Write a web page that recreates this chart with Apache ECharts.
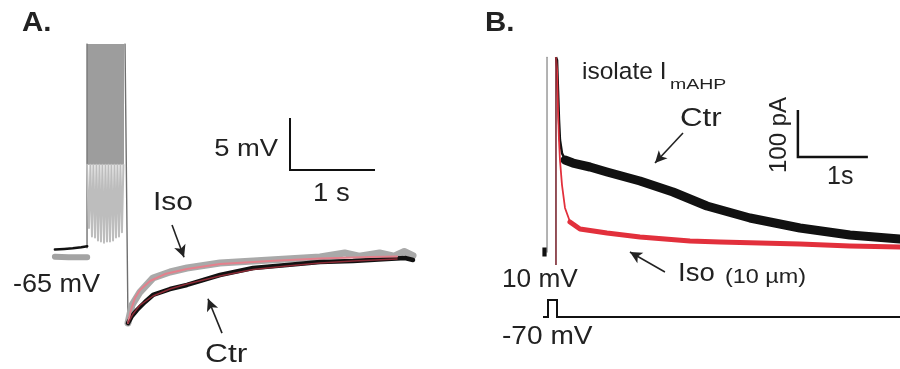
<!DOCTYPE html>
<html>
<head>
<meta charset="utf-8">
<script src="https://cdn.jsdelivr.net/npm/echarts@6/dist/echarts.min.js"></script>
<style>
  html, body { margin: 0; padding: 0; background: #fff; }
  #chart { width: 900px; height: 369px; }
</style>
</head>
<body>
<div id="chart"></div>
<script>
// ---- panel A: membrane potential (s, mV) ----
const preCtrA = [[-0.86, -64.75], [-0.75, -64.7], [-0.65, -64.65], [-0.55, -64.55], [-0.48, -64.45]];
const preIsoA = [[-0.86, -65.45], [-0.7, -65.5], [-0.48, -65.5]];
const burstTop = -45;
const burstDark = -56.6;
const burstStart = -0.482;
const burstEnd = -0.047;
const spikeTimes = [-0.459, -0.424, -0.388, -0.353, -0.318, -0.282, -0.247, -0.212, -0.176, -0.141, -0.106, -0.071];
const spikeTroughs = [-62.7, -63.5, -63.6, -63.9, -64.0, -64.1, -64.0, -64.0, -63.9, -63.6, -63.5, -63.1];
const dropA = [[-0.035, -45], [0, -71.83]];
const isoA = [[0, -71.83], [0.047, -70.1], [0.141, -68.85], [0.294, -67.5], [0.494, -66.92], [0.694, -66.54],
  [1.082, -66.06], [1.671, -65.77], [2.259, -65.48], [2.55, -65.1], [2.72, -65.4], [2.96, -65.1], [3.13, -65.4],
  [3.25, -64.95], [3.353, -65.35]];
const ctrA = [[0, -71.83], [0.047, -71.15], [0.106, -70.58], [0.2, -69.81], [0.294, -69.13], [0.494, -68.56],
  [0.694, -68.17], [1.082, -67.21], [1.471, -66.54], [1.871, -66.25], [2.259, -65.96], [2.647, -65.87],
  [3.047, -65.67], [3.259, -65.58], [3.353, -65.77]];
const isoFitA = [[0, -71.83], [0.035, -70.58], [0.082, -69.42], [0.141, -68.65], [0.259, -67.79], [0.435, -67.12],
  [0.694, -66.63], [1.082, -66.15], [1.671, -65.87], [2.259, -65.63], [2.847, -65.48], [3.165, -65.43]];
const ctrFitA = [[0, -71.83], [0.059, -70.96], [0.141, -70.1], [0.294, -69.23], [0.494, -68.56], [0.694, -68.08],
  [1.082, -67.31], [1.471, -66.68], [1.871, -66.35], [2.259, -66.06], [2.647, -65.87], [3.165, -65.67]];
const scaleA = [[1.906, -52.12], [1.906, -57.12], [2.906, -57.12]];

// ---- panel B: current (s, pA) and command voltage (s, mV) ----
const onsetB = [[-0.014, -4], [-0.014, 410]];
const preB = [[-0.08, -4.3], [-0.02, -4.3]];
const offsetB = [[0.114, -31.9], [0.114, 410]];
const ctrSpikeB = [[0.114, 410], [0.129, 404], [0.143, 340], [0.157, 277], [0.171, 234], [0.2, 206], [0.243, 193]];
const ctrB = [[0.243, 191.5], [0.357, 185], [0.6, 176.6], [0.843, 166], [1.314, 146.8],
  [1.786, 123.4], [2.271, 93.6], [2.886, 68.1], [3.6, 46.8], [4.314, 31.9], [5.03, 23.4]];
const isoSpikeB = [[0.114, 410], [0.129, 383], [0.143, 298], [0.157, 234], [0.171, 191.5], [0.2, 138.3],
  [0.243, 89.4], [0.314, 60]];
const isoB = [[0.314, 59.6], [0.457, 44.7], [0.843, 36.2], [1.314, 27.7], [2.029, 19.1],
  [2.457, 17.0], [3.6, 12.8], [4.314, 8.5], [5.03, 6.4]];
const scaleB = [[3.571, 298], [3.571, 198], [4.571, 198]];
const stepV = [[-0.071, -70], [0, -70], [0, 10], [0.129, 10], [0.129, -70], [5.03, -70]];

// build the zigzag of the spike train from the read troughs
const spikeTrain = [[burstStart, burstDark]];
spikeTimes.forEach((t, i) => {
  spikeTrain.push([t, spikeTroughs[i]]);
  spikeTrain.push([t + 0.017, burstDark]);
});

const chart = echarts.init(document.getElementById('chart'));
const font = '"Liberation Sans", Arial, sans-serif';
const ink = '#222';

function line (name, data, x, color, width, extra) {
  return Object.assign({
    name: name,
    type: 'line',
    xAxisIndex: x,
    yAxisIndex: x,
    data: data,
    showSymbol: false,
    symbol: 'none',
    silent: true,
    lineStyle: { color: color, width: width, join: 'round', cap: 'round' },
    z: 2
  }, extra || {});
}

function arrow (from, to) {
  return [{ coord: from }, { coord: to }];
}

const arrowMark = (pairs) => ({
  silent: true,
  symbol: ['none', 'arrow'],
  symbolSize: [9, 12],
  label: { show: false },
  lineStyle: { color: ink, width: 1.6, type: 'solid' },
  data: pairs
});

// text label; sx stretches it horizontally like the (slightly wide) source figure
function text (str, x, y, size, sx, opts) {
  opts = opts || {};
  return Object.assign({
    type: 'text',
    x: x,
    y: y,
    scaleX: sx || 1,
    style: Object.assign({
      text: str,
      fill: ink,
      font: size + 'px ' + font,
      textVerticalAlign: 'middle'
    }, opts.style || {})
  }, opts.el || {});
}

const option = {
  animation: false,
  backgroundColor: '#fff',
  grid: [
    { left: 43, top: 44, width: 382.5, height: 312 },
    { left: 541, top: 57.3, width: 359.1, height: 216.2 },
    { left: 541, top: 297.9, width: 359.1, height: 21.25 }
  ],
  xAxis: [
    { type: 'value', gridIndex: 0, min: -1, max: 3.5, show: false },
    { type: 'value', gridIndex: 1, min: -0.1, max: 5.03, show: false },
    { type: 'value', gridIndex: 2, min: -0.1, max: 5.03, show: false }
  ],
  yAxis: [
    { type: 'value', gridIndex: 0, min: -75, max: -45, show: false },
    { type: 'value', gridIndex: 1, min: -50, max: 410, show: false },
    { type: 'value', gridIndex: 2, min: -80, max: 20, show: false }
  ],
  series: [
    line('burst', [[burstStart, -64.6], [burstStart, burstTop]], 0, '#7a7a7a', 1.5, {
      markArea: {
        silent: true,
        itemStyle: { color: '#9d9d9d' },
        data: [[{ coord: [burstStart, burstTop] }, { coord: [burstEnd, burstDark] }]]
      }
    }),
    line('spikes', spikeTrain, 0, '#bdbdbd', 2),
    line('drop', dropA, 0, '#6f6f6f', 1.4),
    line('pre Iso', preIsoA, 0, '#a3a3a3', 6),
    line('pre Ctr', preCtrA, 0, '#111', 2.5),
    line('Iso', isoA, 0, '#a9a9a9', 7),
    line('Ctr', ctrA, 0, '#111', 4.5),
    line('Iso fit', isoFitA, 0, '#e4808c', 2),
    line('Ctr fit', ctrFitA, 0, '#8a2a35', 1.5),
    line('scale A', scaleA, 0, '#111', 2, {
      lineStyle: { color: '#111', width: 2, join: 'miter', cap: 'butt' },
      markLine: arrowMark([
        arrow([0.518, -62.4], [0.659, -65.5]),
        arrow([1.106, -72.8], [0.941, -69.5])
      ])
    }),

    line('onset', onsetB, 1, '#9a9a9a', 1.5),
    line('pre', preB, 1, '#111', 9, { lineStyle: { color: '#111', width: 9, cap: 'butt' } }),
    line('Ctr B spike', ctrSpikeB, 1, '#111', 2.5, { lineStyle: { color: '#111', width: 2.5, cap: 'butt' } }),
    line('Ctr B', ctrB, 1, '#111', 9),
    line('Iso B spike', isoSpikeB, 1, '#e2303c', 1.8, { lineStyle: { color: '#e2303c', width: 1.8, cap: 'butt' } }),
    line('Iso B', isoB, 1, '#e2303c', 5),
    line('offset', offsetB, 1, '#7a2630', 1.6, { lineStyle: { color: '#7a2630', width: 1.6, cap: 'butt' } }),
    line('scale B', scaleB, 1, '#111', 2.5, {
      lineStyle: { color: '#111', width: 2.5, join: 'miter', cap: 'butt' },
      markLine: arrowMark([
        arrow([1.929, 249], [1.529, 185]),
        arrow([1.671, -46.8], [1.171, -4.3])
      ])
    }),
    line('step', stepV, 2, '#111', 2, { lineStyle: { color: '#111', width: 2, join: 'miter' } })
  ],
  graphic: [
    text('A.', 22, 23, 28, 1.05, { style: { font: 'bold 28px ' + font } }),
    text('B.', 485, 23, 28, 1.05, { style: { font: 'bold 28px ' + font } }),
    text('-65 mV', 13, 285, 26, 1.04),
    text('5 mV', 278, 149, 24, 1.14, { style: { textAlign: 'right' } }),
    text('1 s', 313, 194, 25, 1.1),
    text('Iso', 153, 203, 26, 1.15),
    text('Ctr', 205, 355, 26, 1.22),
    text('isolate I', 582, 72, 24.5, 1),
    text('mAHP', 670, 85, 15, 1.3),
    text('Ctr', 680, 119, 25, 1.25),
    text('100 pA', 779, 135, 24, 1, {
      style: { textAlign: 'center' },
      el: { rotation: Math.PI / 2 }
    }),
    text('1s', 827, 177, 25, 1),
    text('Iso', 678, 274, 25, 1.1),
    text('(10 µm)', 725, 278, 19.5, 1.2),
    text('10 mV', 502, 280, 25, 1.05),
    text('-70 mV', 502, 337, 26, 1.08)
  ]
};

chart.setOption(option);
</script>
</body>
</html>
